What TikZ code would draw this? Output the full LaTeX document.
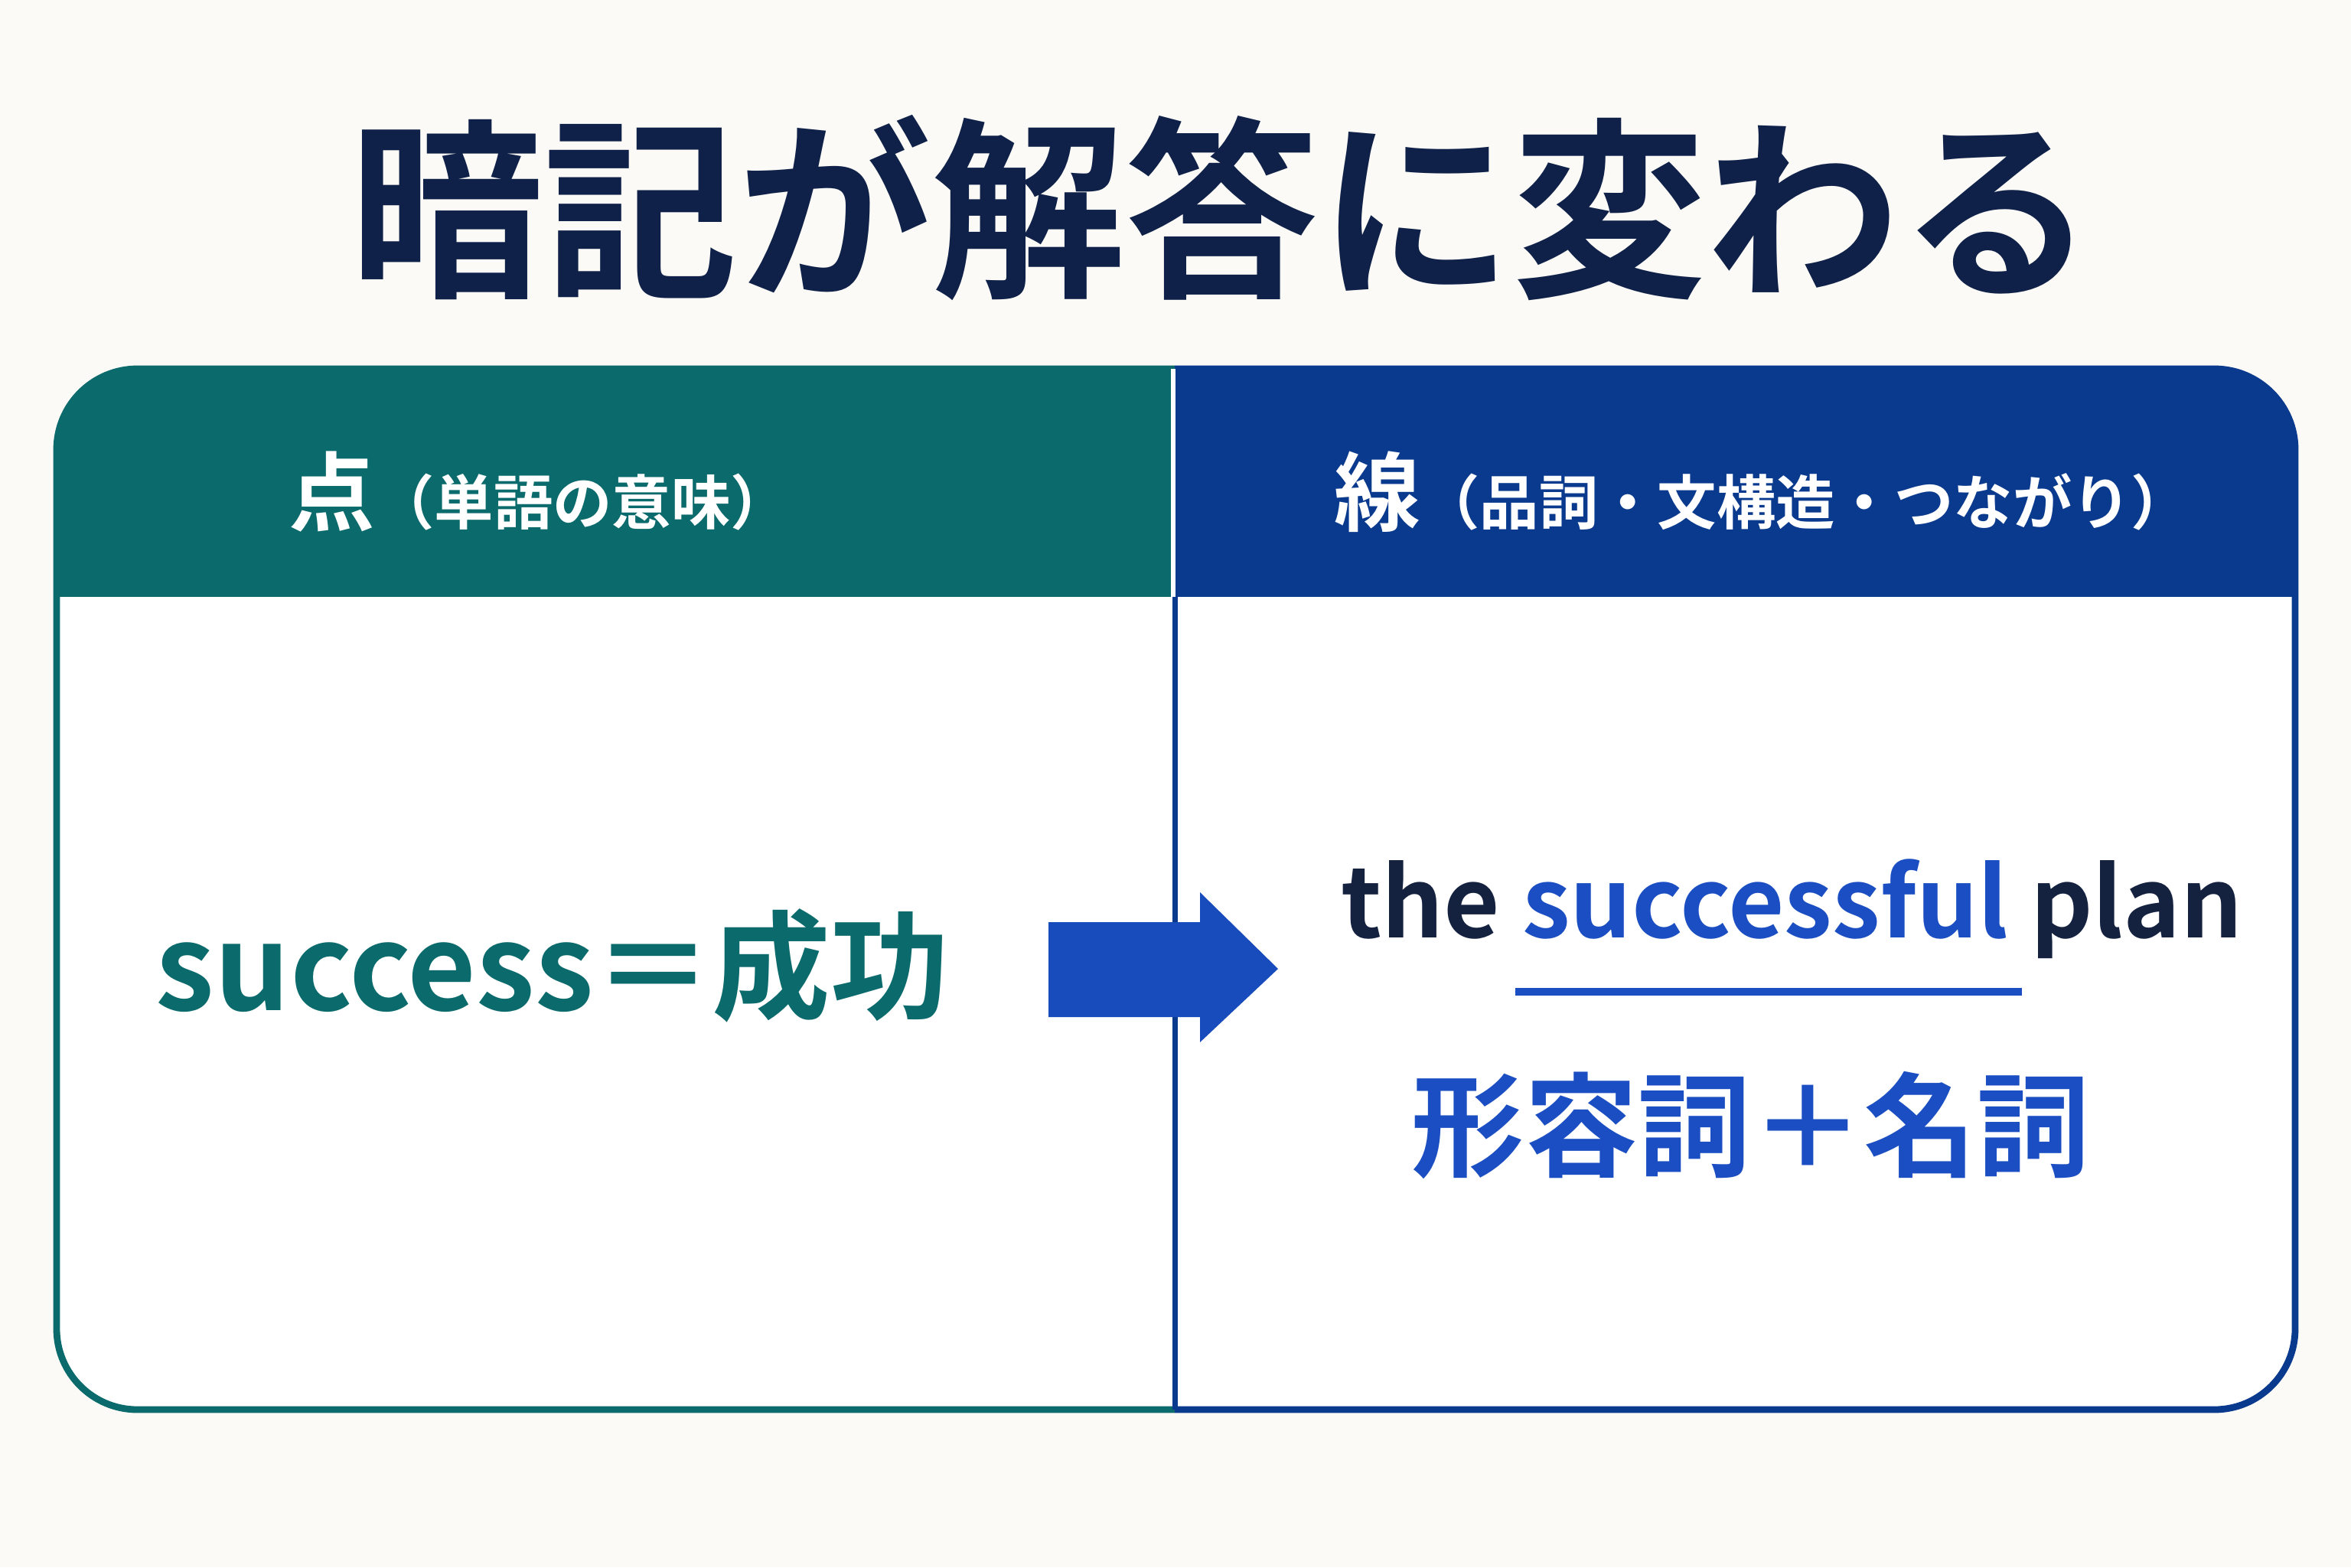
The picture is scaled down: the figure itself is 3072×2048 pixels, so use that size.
\documentclass[tikz,border=0pt]{standalone}
\usepackage{fontspec}
\setmainfont{Noto Sans CJK JP}[BoldFont={* Bold}]
\newfontfamily\jpbold{Noto Sans CJK JP Bold}
\usetikzlibrary{positioning}
\definecolor{bgcol}{HTML}{FBFAF6}
\definecolor{tealhead}{HTML}{0B6A6C}
\definecolor{navyhead}{HTML}{0A3A8E}
\definecolor{titlecol}{HTML}{0F2148}
\definecolor{bluetext}{HTML}{1A4EC2}
\definecolor{darktext}{HTML}{14213F}
\tikzstyle{headtext}=[text=white,font=\jpbold\fontsize{22}{22}\selectfont]
\tikzstyle{bigtext}=[font=\jpbold\fontsize{38}{38}\selectfont]

\begin{document}
\begin{tikzpicture}[x=0.01cm,y=-0.01cm]
  \fill[bgcol] (0,0) rectangle (3072,2048);
  \useasboundingbox (0,0) rectangle (3072,2048);

  % title
  \node[text=titlecol,font=\jpbold\fontsize{72}{72}\selectfont] (title) at (1597,272) {暗記が解答に変わる};

  % panels
  \begin{scope}
    \clip[rounded corners=30] (74,482) rectangle (2999,1842);
    \fill[white] (74,482) rectangle (2999,1842);
    \fill[tealhead] (74,482) rectangle (1535,780);
    \fill[navyhead] (1535,482) rectangle (2999,780);
  \end{scope}
  \draw[tealhead,line width=2.5pt,rounded corners=30] (1535,1842) -- (74,1842) -- (74,482) -- (1535,482);
  \draw[navyhead,line width=2.5pt,rounded corners=30] (1535,482) -- (2999,482) -- (2999,1842) -- (1535,1842);
  \draw[navyhead,line width=2pt] (1535,482) -- (1535,1842);
  \draw[white,line width=1.5pt] (1533,482) -- (1533,780);

  \node[headtext] (pointhead) at (705,643) {{\fontsize{32}{32}\selectfont 点}（単語の意味）};
  \node[headtext] (linehead) at (2303,643) {{\fontsize{32}{32}\selectfont 線}（品詞・文構造・つながり）};

  % contents
  \node[bigtext,text=tealhead,font=\jpbold\fontsize{44}{44}\selectfont] (word) at (722,1262) {success＝成功};
  \node[bigtext,text=darktext,anchor=west,font=\jpbold\fontsize{36}{36}\selectfont] (phrase) at (1740,1188)
    {the \textcolor{bluetext}{successful} plan};
  \coordinate (ulstart) at (1980,1296);
  \coordinate (ulend) at (2642,1296);
  \draw[bluetext,line width=3pt] (ulstart) -- (ulend);
  \node[bigtext,text=bluetext,font=\jpbold\fontsize{42}{42}\selectfont] (pos) at (2288,1470) {形容詞＋名詞};

  % arrow
  \fill[bluetext!90!navyhead] (1370,1205) -- (1568,1205) -- (1568,1166) -- (1670,1266)
    -- (1568,1362) -- (1568,1329) -- (1370,1329) -- cycle;
\end{tikzpicture}
\end{document}
